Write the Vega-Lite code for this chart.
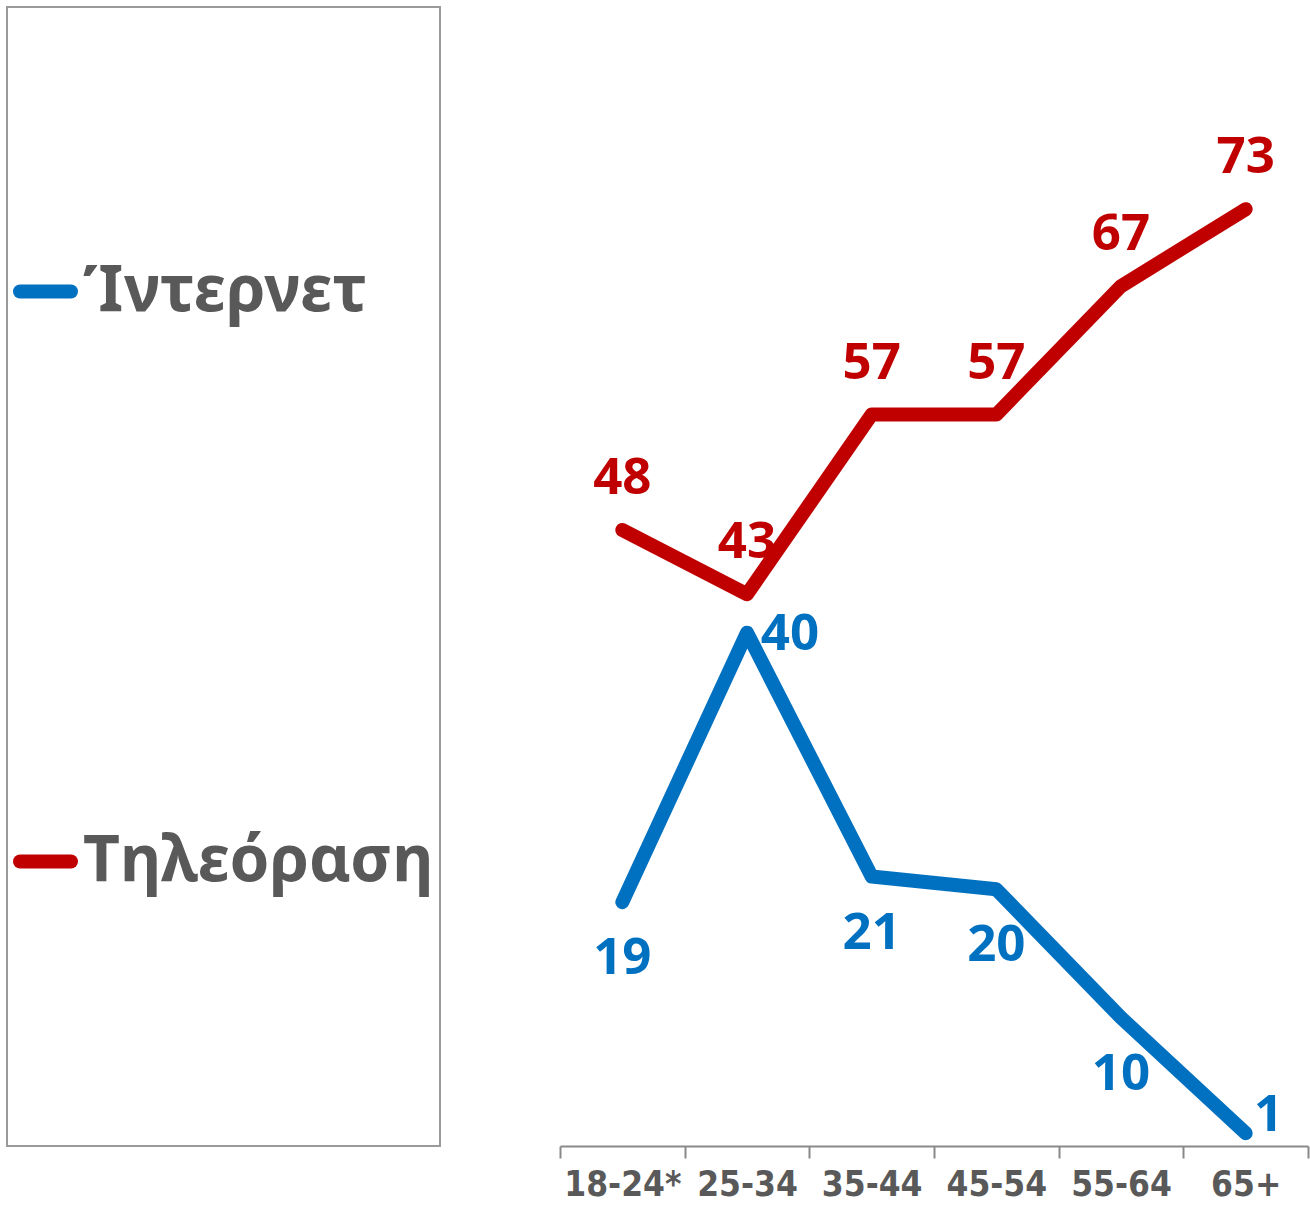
{
  "$schema": "https://vega.github.io/schema/vega-lite/v6.json",
  "autosize": {"type": "none"},
  "width": 748,
  "height": 1146,
  "padding": {"left": 560, "top": 0, "right": 2, "bottom": 59},
  "background": "white",
  "config": {"view": {"stroke": null}},
  "data": {
    "values": [
      {"age": "18-24*", "series": "Ίντερνετ", "value": 19},
      {"age": "25-34", "series": "Ίντερνετ", "value": 40},
      {"age": "35-44", "series": "Ίντερνετ", "value": 21},
      {"age": "45-54", "series": "Ίντερνετ", "value": 20},
      {"age": "55-64", "series": "Ίντερνετ", "value": 10},
      {"age": "65+", "series": "Ίντερνετ", "value": 1},
      {"age": "18-24*", "series": "Τηλεόραση", "value": 48},
      {"age": "25-34", "series": "Τηλεόραση", "value": 43},
      {"age": "35-44", "series": "Τηλεόραση", "value": 57},
      {"age": "45-54", "series": "Τηλεόραση", "value": 57},
      {"age": "55-64", "series": "Τηλεόραση", "value": 67},
      {"age": "65+", "series": "Τηλεόραση", "value": 73}
    ]
  },
  "encoding": {
    "x": {
      "field": "age", "type": "nominal", "bandPosition": 0.5,
      "sort": ["18-24*", "25-34", "35-44", "45-54", "55-64", "65+"],
      "scale": {"type": "band", "paddingInner": 0, "paddingOuter": 0},
      "axis": {
        "title": null, "labelAngle": 0, "tickBand": "extent",
        "domainColor": "#898989", "domainWidth": 2,
        "tickColor": "#898989", "tickWidth": 2, "tickSize": 12,
        "labelFont": "DejaVu Sans Condensed", "labelFontSize": 35, "labelFontWeight": "bold",
        "labelColor": "#595959", "labelPadding": 9, "grid": false
      }
    },
    "y": {
      "field": "value", "type": "quantitative",
      "scale": {"domain": [0, 89.3], "nice": false, "zero": true},
      "axis": null
    }
  },
  "layer": [
    {
      "mark": {"type": "line", "strokeWidth": 14, "strokeCap": "round", "strokeJoin": "round"},
      "encoding": {
        "color": {
          "field": "series", "type": "nominal",
          "scale": {"domain": ["Ίντερνετ", "Τηλεόραση"], "range": ["#0070C0", "#C00000"]},
          "legend": {
            "title": null, "orient": "none", "legendX": -553, "legendY": 7,
            "symbolType": "stroke", "symbolSize": 2601, "symbolStrokeWidth": 14,
            "labelFont": "Noto Sans", "labelFontSize": 64, "labelFontWeight": "bold",
            "labelColor": "#595959", "labelLimit": 600, "labelOffset": 5,
            "clipHeight": 557, "rowPadding": 13, "padding": 6,
            "strokeColor": "#9a9a9a",
            "encode": {
              "symbols": {"update": {"strokeCap": {"value": "round"}}},
              "legend": {"update": {"strokeWidth": {"value": 2}}}
            }
          }
        }
      }
    },
    {
      "transform": [{"filter": "datum.series === 'Τηλεόραση'"}],
      "mark": {"type": "text", "dy": -51, "font": "Open Sans", "fontSize": 51, "fontWeight": "bold", "color": "#C00000", "baseline": "middle"},
      "encoding": {"text": {"field": "value", "type": "quantitative"}}
    },
    {
      "transform": [{"filter": "datum.series === 'Ίντερνετ' && datum.age !== '25-34' && datum.age !== '65+'"}],
      "mark": {"type": "text", "dy": 57, "font": "Open Sans", "fontSize": 51, "fontWeight": "bold", "color": "#0070C0", "baseline": "middle"},
      "encoding": {"text": {"field": "value", "type": "quantitative"}}
    },
    {
      "transform": [{"filter": "datum.series === 'Ίντερνετ' && datum.age === '25-34'"}],
      "mark": {"type": "text", "dx": 43, "dy": 2, "font": "Open Sans", "fontSize": 51, "fontWeight": "bold", "color": "#0070C0", "baseline": "middle"},
      "encoding": {"text": {"field": "value", "type": "quantitative"}}
    },
    {
      "transform": [{"filter": "datum.series === 'Ίντερνετ' && datum.age === '65+'"}],
      "mark": {"type": "text", "dx": 23, "dy": -17, "font": "Open Sans", "fontSize": 51, "fontWeight": "bold", "color": "#0070C0", "baseline": "middle"},
      "encoding": {"text": {"field": "value", "type": "quantitative"}}
    }
  ]
}
